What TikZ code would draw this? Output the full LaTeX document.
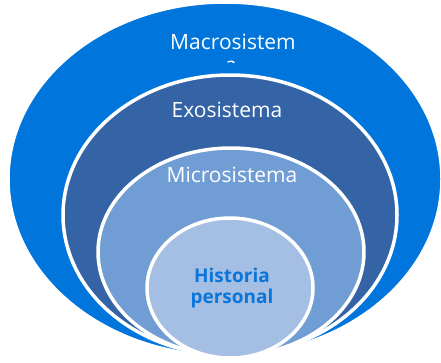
\documentclass[tikz,border=0pt]{standalone}
\usepackage{fontspec}
\setmainfont{Open Sans}
\usetikzlibrary{shapes.geometric}
\definecolor{macroblue}{RGB}{0,118,221}
\definecolor{exoblue}{RGB}{52,100,165}
\definecolor{microblue}{RGB}{112,157,212}
\definecolor{histblue}{RGB}{164,191,227}
\definecolor{histtext}{RGB}{10,118,218}

\begin{document}
\begin{tikzpicture}[x=1pt,y=-1pt,
  ring/.style={ellipse,draw=white,line width=3.5pt,inner sep=0pt},
  lbl/.style={text=white,font=\fontsize{21}{23}\selectfont,anchor=base}]
\useasboundingbox (0,0) rectangle (441,362);
% nested levels, all resting on the bottom
\foreach \n/\cx/\cy/\w/\h/\c in {macro/225/179/434/354/macroblue,exo/230/215/334/280/exoblue,micro/231/252/266/208/microblue,hist/230/288/166/140/histblue}
  {\node[ring,fill=\c,minimum width=\w pt,minimum height=\h pt] (\n) at (\cx,\cy) {};}
\node[lbl] (macrolbl) at (233,49) {Macrosistem};
\begin{scope}
  \clip (150,50) rectangle (320,62);
  \node[lbl] (macrotail) at (231,72) {a};
\end{scope}
\node[lbl] (exolbl) at (227,117) {Exosistema};
\node[lbl] (microlbl) at (232,182) {Microsistema};
\node[text=histtext,font=\bfseries\fontsize{19}{21}\selectfont,align=center] (histlbl) at (232,288) {Historia\\personal};
\end{tikzpicture}
\end{document}
